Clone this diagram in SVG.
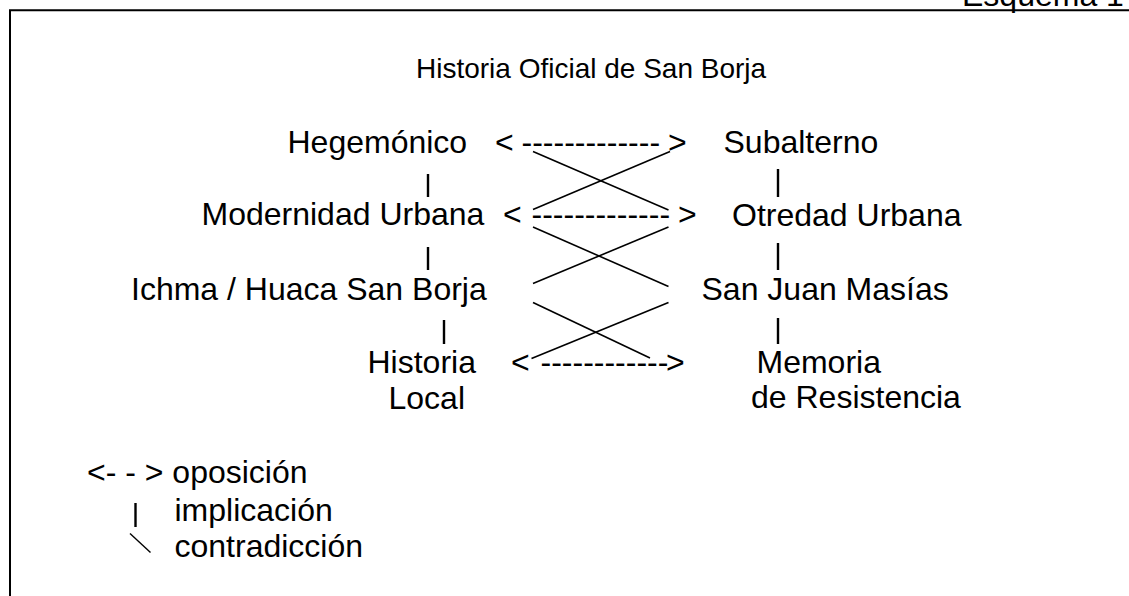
<svg xmlns="http://www.w3.org/2000/svg" width="1129" height="596" viewBox="0 0 1129 596">
<style>
  text { font-family: "Liberation Sans", Arial, sans-serif; fill: #000; }
  .n { font-size: 32px; }
  .t { font-size: 28px; }
  .c line { stroke: #000; stroke-width: 1.6; }
  .c line.imp { stroke-width: 2.4; }
</style>
<rect width="1129" height="596" fill="#fff"/>
<text class="n" x="962" y="6">Esquema 1</text>
<path d="M10,596 V10.3 H1129" fill="none" stroke="#000" stroke-width="2"/>
<text id="title" class="t" x="416" y="78">Historia Oficial de San Borja</text>
<g id="hegemonico"><text class="n" x="287.5" y="153">Hegemónico</text></g>
<g id="modernidad"><text class="n" x="201.5" y="225">Modernidad Urbana</text></g>
<g id="ichma"><text class="n" x="131" y="300">Ichma / Huaca San Borja</text></g>
<g id="historia"><text class="n" x="367.5" y="373">Historia</text><text class="n" x="388.5" y="409">Local</text></g>
<g id="subalterno"><text class="n" x="723.5" y="153">Subalterno</text></g>
<g id="otredad"><text class="n" x="732" y="226">Otredad Urbana</text></g>
<g id="sanjuan"><text class="n" x="701.5" y="300">San Juan Masías</text></g>
<g id="memoria"><text class="n" x="756.5" y="373">Memoria</text><text class="n" x="751" y="408">de Resistencia</text></g>
<g id="connectors" class="c">
  <text class="n" y="153"><tspan x="495">&lt;</tspan><tspan x="521.5">-------------</tspan><tspan x="668">&gt;</tspan></text>
  <text class="n" y="225"><tspan x="503">&lt;</tspan><tspan x="531.5">-------------</tspan><tspan x="678">&gt;</tspan></text>
  <text class="n" y="373"><tspan x="511">&lt;</tspan><tspan x="540.5">------------</tspan><tspan x="666">&gt;</tspan></text>
  <line class="imp" x1="428" y1="174" x2="428" y2="197"/>
  <line class="imp" x1="428" y1="247" x2="428" y2="270"/>
  <line class="imp" x1="444" y1="320" x2="444" y2="344"/>
  <line class="imp" x1="778" y1="169" x2="778" y2="197"/>
  <line class="imp" x1="778" y1="243" x2="778" y2="270"/>
  <line class="imp" x1="778" y1="318" x2="778" y2="344"/>
  <line x1="533" y1="151.5" x2="668.5" y2="210"/>
  <line x1="533" y1="209.5" x2="670" y2="151.5"/>
  <line x1="533" y1="227" x2="668.5" y2="286.5"/>
  <line x1="533" y1="283.5" x2="668.5" y2="227"/>
  <line x1="533" y1="302.5" x2="650" y2="358"/>
  <line x1="668.5" y1="302.5" x2="531.5" y2="358.5"/>
</g>
<g id="legend">
  <text class="n" x="87" y="483">&lt;- - &gt; oposición</text>
  <line x1="135.5" y1="503" x2="135.5" y2="527" stroke="#000" stroke-width="2.4"/>
  <text class="n" x="174.5" y="521">implicación</text>
  <line x1="130" y1="533.5" x2="150.5" y2="552.5" stroke="#000" stroke-width="1.4"/>
  <text class="n" x="174.5" y="557">contradicción</text>
</g>
</svg>
